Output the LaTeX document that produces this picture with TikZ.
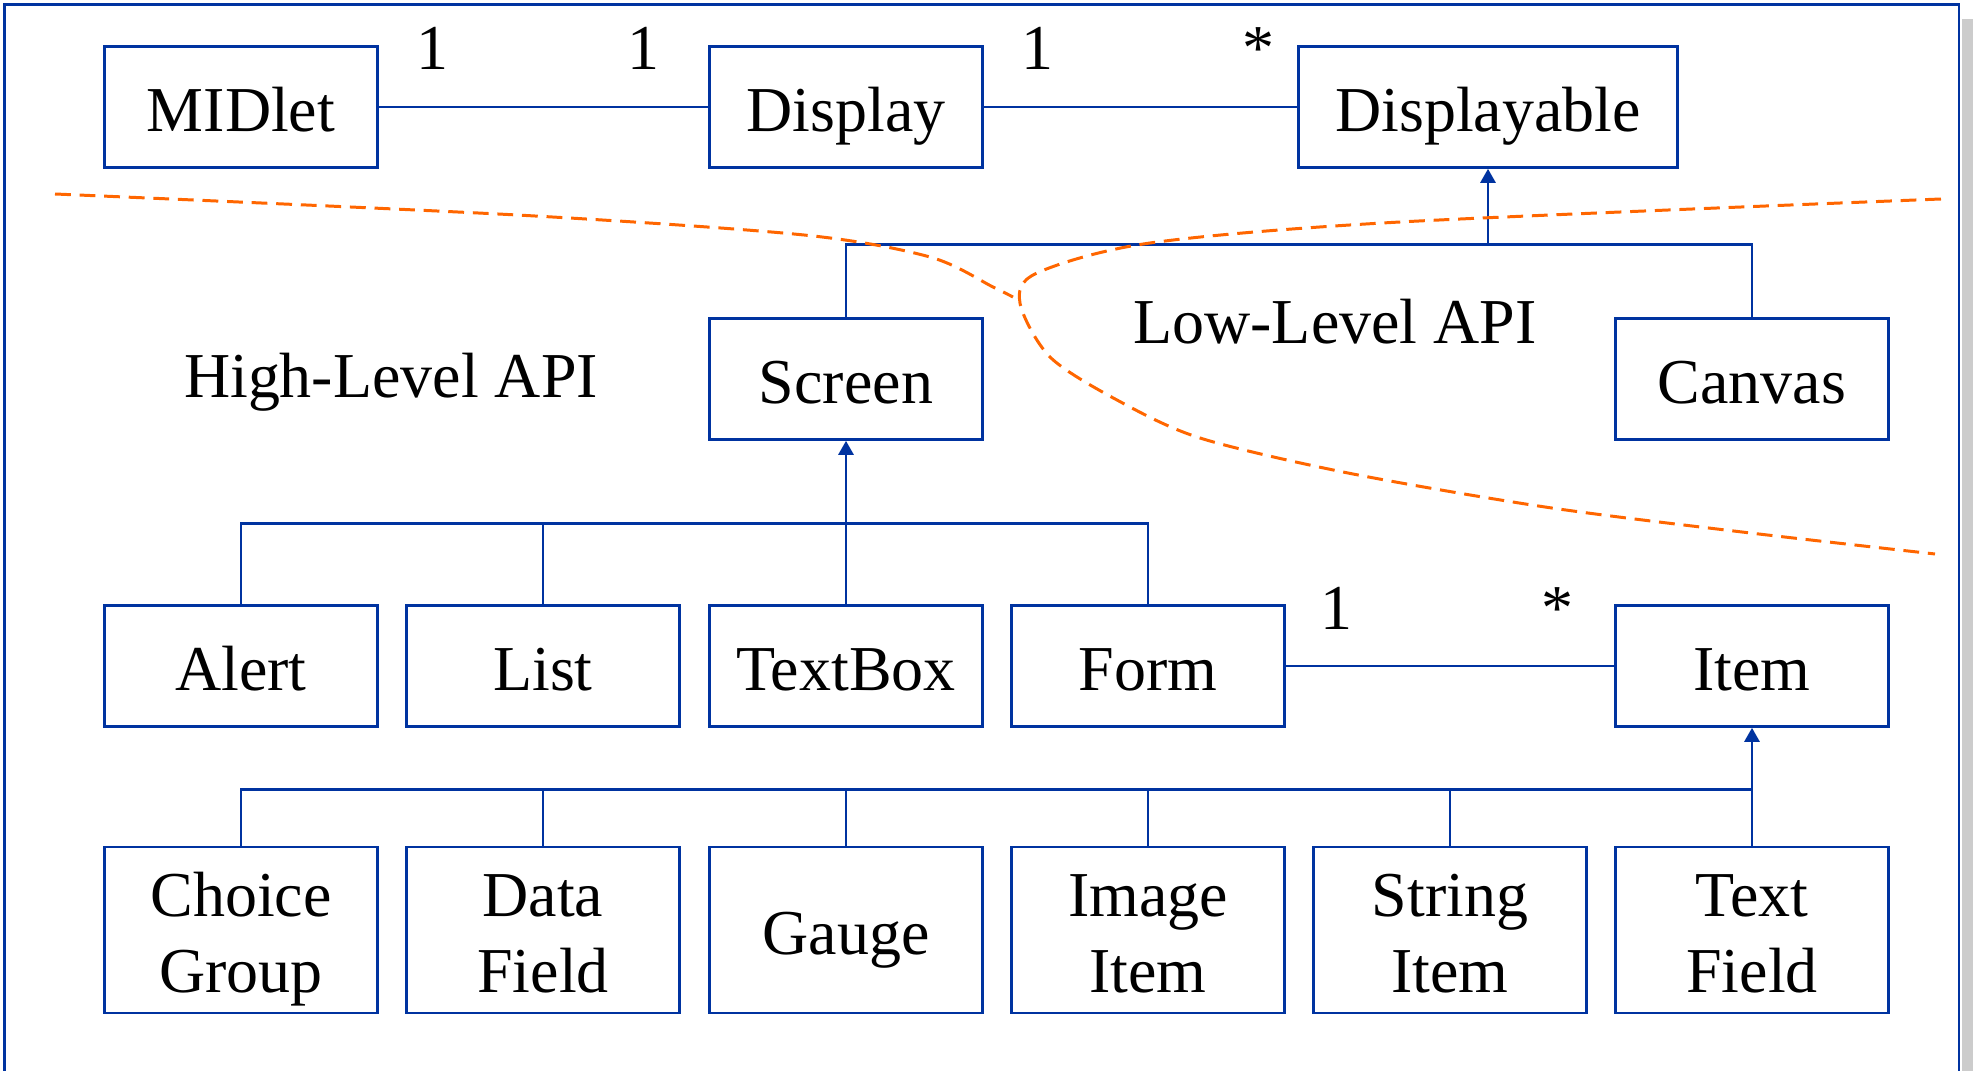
\documentclass[tikz,border=0pt]{standalone}
\usepackage{fontspec}
\setmainfont{Liberation Serif}
\usetikzlibrary{arrows.meta}
\definecolor{umlblue}{RGB}{0,51,160}
\definecolor{apiorange}{RGB}{255,102,0}
\definecolor{shadowgray}{RGB}{204,204,204}

\begin{document}
\begin{tikzpicture}
        \tikzstyle{every node}=[font=\fontsize{18.2}{21.6}\selectfont]
        \tikzstyle{cls}=[draw=umlblue, line width=0.75pt, minimum width=2.73cm, minimum height=1.21cm, inner sep=0pt, text height=13.7pt, text depth=0pt]
        \tikzstyle{tallcls}=[cls, minimum height=1.66cm, align=center, text height=35.3pt]
        \tikzstyle{link}=[draw=umlblue, line width=0.75pt]
        \tikzstyle{inherit}=[link, -{Triangle[length=4pt,width=4.3pt]}]
        \tikzstyle{mult}=[anchor=base, yshift=0.37cm]
        \tikzstyle{apiline}=[draw=apiorange, line width=0.85pt, dash pattern=on 4.5pt off 2.5pt]

        \useasboundingbox (0,0) rectangle (19.73,-10.71);
        \fill[shadowgray] (19.62,-0.19) rectangle (19.73,-10.71);
        \draw[link, line width=0.8pt] (0.046,-10.71) |- (19.59,-0.045) -- (19.59,-10.71);

        \node[cls] (midlet) at (2.41,-1.07) {MIDlet};
        \node[cls] (display) at (8.46,-1.07) {Display};
        \node[cls, minimum width=3.79cm] (displayable) at (14.88,-1.07) {Displayable};

        \node[cls] (screen) at (8.46,-3.79) {Screen};
        \node[cls] (canvas) at (17.52,-3.79) {Canvas};
        \node[anchor=base] (highlevel) at (3.91,-3.98) {High-Level API};
        \node[anchor=base] (lowlevel) at (13.35,-3.44) {Low-Level API};

        \node[cls] (alert) at (2.41,-6.66) {Alert};
        \node[cls] (list) at (5.43,-6.66) {List};
        \node[cls] (textbox) at (8.46,-6.66) {TextBox};
        \node[cls] (form) at (11.48,-6.66) {Form};
        \node[cls] (item) at (17.52,-6.66) {Item};

        \node[tallcls] (choicegroup) at (2.41,-9.30) {Choice\\Group};
        \node[tallcls] (datafield) at (5.43,-9.30) {Data\\Field};
        \node[cls, minimum height=1.66cm] (gauge) at (8.46,-9.30) {Gauge};
        \node[tallcls] (imageitem) at (11.48,-9.30) {Image\\Item};
        \node[tallcls] (stringitem) at (14.50,-9.30) {String\\Item};
        \node[tallcls] (textfield) at (17.52,-9.30) {Text\\Field};

        \draw[link] (midlet) -- node[mult, pos=0.164] {1} node[mult, pos=0.803] {1} (display);
        \draw[link] (display) -- node[mult, pos=0.172] {1} node[mult, pos=0.875] {*} (displayable);
        \draw[link] (form) -- node[mult, pos=0.153] {1} node[mult, pos=0.826] {*} (item);

        \coordinate (topbus) at ([yshift=-0.755cm]displayable.south);
        \draw[link] (screen.north) |- (topbus) -| (canvas.north);
        \draw[inherit] (topbus) -- (displayable.south);

        \coordinate (midbus) at ([yshift=-0.825cm]screen.south);
        \draw[link] (alert.north) |- (midbus) -| (form.north);
        \draw[link] (list.north) -- (list.north |- midbus);
        \draw[inherit] (textbox.north) -- (screen.south);

        \coordinate (lowbus) at ([yshift=-0.615cm]item.south);
        \draw[link] (choicegroup.north) |- (lowbus);
        \foreach \n in {datafield,gauge,imageitem,stringitem}
            \draw[link] (\n.north) -- (\n.north |- lowbus);
        \draw[inherit] (textfield.north) -- (item.south);

        \draw[apiline] plot[smooth] coordinates {(0.55,-1.94) (5.17,-2.15) (8.04,-2.35) (9.30,-2.57) (9.93,-2.87) (10.13,-2.97)};
        \draw[apiline] plot[smooth] coordinates {(19.41,-1.99) (14.00,-2.22) (11.50,-2.43) (10.37,-2.73) (10.20,-3.03) (10.50,-3.57) (11.17,-4.00) (12.00,-4.38) (13.48,-4.73) (15.45,-5.07) (17.42,-5.32) (19.35,-5.54)};
\end{tikzpicture}
\end{document}
